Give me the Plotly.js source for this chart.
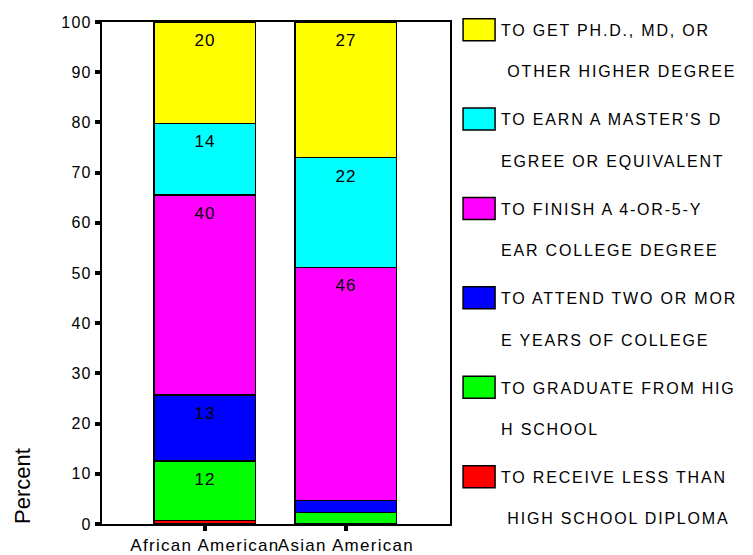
<!DOCTYPE html>
<html>
<head>
<meta charset="utf-8">
<script src="https://cdn.plot.ly/plotly-3.0.1.min.js"></script>
<style>
  html, body { margin: 0; padding: 0; background: #fff; }
  #chart { width: 753px; height: 555px; }
  .legendtext { letter-spacing: 1.8px; }
  .xtick text { letter-spacing: 1.3px; }
  .ytick text { letter-spacing: 1.3px; }
  .bartext { letter-spacing: 1px; }
</style>
</head>
<body>
<div id="chart"></div>
<script>
// Educational expectations by group (percent of respondents)
const groups = ['African American', 'Asian American'];

const lessThanHighSchool = [0.7, 0.0];
const highSchool         = [11.9, 2.3];
const twoYearsCollege    = [13.1, 2.4];
const fourYearDegree     = [39.8, 46.4];
const mastersDegree      = [14.3, 21.9];
const higherDegree       = [20.2, 27.0];

const yTicks = [0, 10, 20, 30, 40, 50, 60, 70, 80, 90, 100];

// Legend labels, wrapped the way the survey codebook prints them
const NB = '\u00A0';
const labelLessThanHS = 'TO RECEIVE LESS THAN<br>' + NB + '<br>' + NB + 'HIGH SCHOOL DIPLOMA';
const labelHighSchool = 'TO GRADUATE FROM HIG<br>' + NB + '<br>H SCHOOL';
const labelTwoYears   = 'TO ATTEND TWO OR MOR<br>' + NB + '<br>E YEARS OF COLLEGE';
const labelFourYear   = 'TO FINISH A 4-OR-5-Y<br>' + NB + '<br>EAR COLLEGE DEGREE';
const labelMasters    = "TO EARN A MASTER'S D<br>" + NB + '<br>EGREE OR EQUIVALENT';
const labelHigher     = 'TO GET PH.D., MD, OR<br>' + NB + '<br>' + NB + 'OTHER HIGHER DEGREE';

// Bottom-to-top stacking order
const series = [
  { name: labelLessThanHS, values: lessThanHighSchool, color: '#FF0000' },
  { name: labelHighSchool, values: highSchool,         color: '#00FF00' },
  { name: labelTwoYears,   values: twoYearsCollege,    color: '#0000FF' },
  { name: labelFourYear,   values: fourYearDegree,     color: '#FF00FF' },
  { name: labelMasters,    values: mastersDegree,      color: '#00FFFF' },
  { name: labelHigher,     values: higherDegree,       color: '#FFFF00' }
];

const traces = series.map((s, i) => ({
  type: 'bar',
  x: groups,
  y: s.values,
  name: s.name,
  legendgroup: 'g' + i,
  legendrank: series.length - i,   // top segment listed first
  marker: { color: s.color, line: { color: '#000', width: 1.5 } },
  texttemplate: '%{y:.0f}',
  textposition: 'inside',
  insidetextanchor: 'end',
  textangle: 0,
  textfont: { size: 17, color: '#000' },
  hoverinfo: 'skip'
}));

const FONT = 'Liberation Sans, Arial, Helvetica, sans-serif';

const layout = {
  width: 753,
  height: 555,
  margin: { l: 102, r: 303, t: 22, b: 31 },
  paper_bgcolor: '#fff',
  plot_bgcolor: '#fff',
  barmode: 'stack',
  bargap: 0.28,
  font: { family: FONT, color: '#000', size: 16 },
  uniformtext: { mode: 'hide', minsize: 17 },
  xaxis: {
    type: 'category',
    range: [-0.73, 1.738],
    showline: true, linewidth: 2, linecolor: '#000', mirror: true,
    ticks: 'outside', ticklen: 5, tickwidth: 4, tickcolor: '#000',
    tickfont: { size: 17 },
    showgrid: false, zeroline: false, fixedrange: true
  },
  yaxis: {
    range: [0, 100],
    tickmode: 'array', tickvals: yTicks, ticktext: yTicks.map(String),
    showline: true, linewidth: 2, linecolor: '#000', mirror: true,
    ticks: 'outside', ticklen: 5, tickwidth: 4, tickcolor: '#000',
    tickfont: { size: 16 },
    showgrid: false, zeroline: false, fixedrange: true
  },
  showlegend: true,
  legend: {
    xref: 'container', yref: 'container',
    x: 0.607, y: 0.977, xanchor: 'left', yanchor: 'top',
    font: { size: 16, family: FONT },
    traceorder: 'grouped',
    tracegroupgap: 24,
    itemwidth: 34,
    valign: 'top',
    maxheight: 545,
    bgcolor: 'rgba(0,0,0,0)',
    borderwidth: 0
  },
  annotations: [{
    text: 'Percent',
    textangle: -90,
    xref: 'paper', yref: 'paper',
    x: 0, y: 0, xshift: -80, yshift: 38,
    xanchor: 'center', yanchor: 'middle',
    showarrow: false,
    font: { size: 22, family: FONT }
  }]
};

Plotly.newPlot('chart', traces, layout, { displayModeBar: false, staticPlot: true }).then(gd => {
  // Wider legend swatches
  gd.querySelectorAll('.legend .legendpoints path').forEach(p => {
    p.setAttribute('d', 'M16,11H-16V-11H16Z');
  });
  // Segment labels sit a little lower inside each segment
  gd.querySelectorAll('.bartext').forEach(t => {
    const tr = t.getAttribute('transform') || '';
    t.setAttribute('transform', 'translate(0,6) ' + tr);
  });
});
</script>
</body>
</html>
